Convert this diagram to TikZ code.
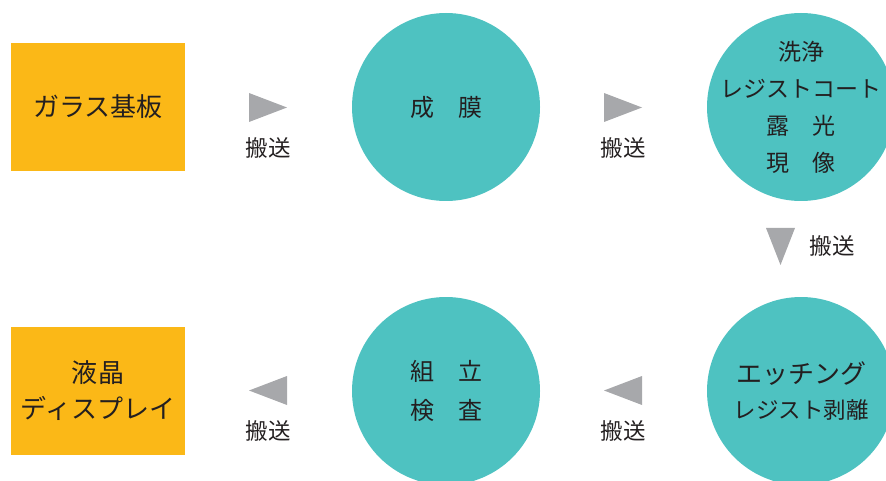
\documentclass[tikz,border=0pt]{standalone}
\usepackage{fontspec}
\setmainfont{Noto Sans CJK JP}
\definecolor{teal1}{HTML}{4EC2C1}
\definecolor{orange1}{HTML}{FBB817}
\definecolor{grey1}{HTML}{A7A8AB}
\definecolor{ink}{HTML}{231F20}
\tikzset{
  stepcircle/.style={circle, fill=teal1, minimum size=188pt, inner sep=0pt},
  steptext/.style={text=ink, align=center, inner sep=0pt},
  stepbox/.style={rectangle, fill=orange1, minimum width=174pt, minimum height=128pt, inner sep=0pt, text=ink, align=center},
  conveylabel/.style={text=ink, font=\fontsize{22.5}{26}\selectfont, inner sep=0pt},
  tri/.style={fill=grey1}
}
\begin{document}
\begin{tikzpicture}[x=1pt,y=-1pt]
\useasboundingbox (0,0) rectangle (886,481);
\begin{scope}
\clip (0,0) rectangle (886,481);
\node[stepbox, font=\fontsize{26}{28}\selectfont] (glass) at (98,107) {ガラス基板};
\node[stepcircle] (film) at (446,107) {};
\node[steptext, font=\fontsize{24}{28}\selectfont] (filmt) at (film.center) {成\hspace{1em}膜};
\node[stepcircle] (litho) at (801,107) {};
\node[steptext, font=\fontsize{23}{37}\selectfont] (lithot) at (litho.center) {洗浄\\レジストコート\\露\hspace{1em}光\\現\hspace{1em}像};
\node[stepcircle] (etch) at (801,391) {};
\node[steptext] (etcht) at (etch.center) {{\fontsize{26}{30}\selectfont エッチング}\\[14pt]{\fontsize{22.5}{26}\selectfont レジスト剥離}};
\node[stepcircle] (assy) at (446,391) {};
\node[steptext, font=\fontsize{24}{39}\selectfont] (assyt) at (assy.center) {組\hspace{1em}立\\検\hspace{1em}査};
\node[stepbox, font=\fontsize{26}{36}\selectfont] (lcd) at (98,391) {液晶\\ディスプレイ};
\end{scope}
% conveyor markers
\fill[tri] (249,93) -- (249,122) -- (287,107.5) -- cycle;
\node[conveylabel] (c1) at (268,148) {搬送};
\fill[tri] (604,93) -- (604,122) -- (642,107.5) -- cycle;
\node[conveylabel] (c2) at (623,148) {搬送};
\fill[tri] (766,228) -- (795,228) -- (780.5,265) -- cycle;
\node[conveylabel] (c3) at (832,246) {搬送};
\fill[tri] (642,376) -- (642,405) -- (604,390.5) -- cycle;
\node[conveylabel] (c4) at (623,431) {搬送};
\fill[tri] (287,376) -- (287,405) -- (249,390.5) -- cycle;
\node[conveylabel] (c5) at (268,431) {搬送};
\end{tikzpicture}
\end{document}
